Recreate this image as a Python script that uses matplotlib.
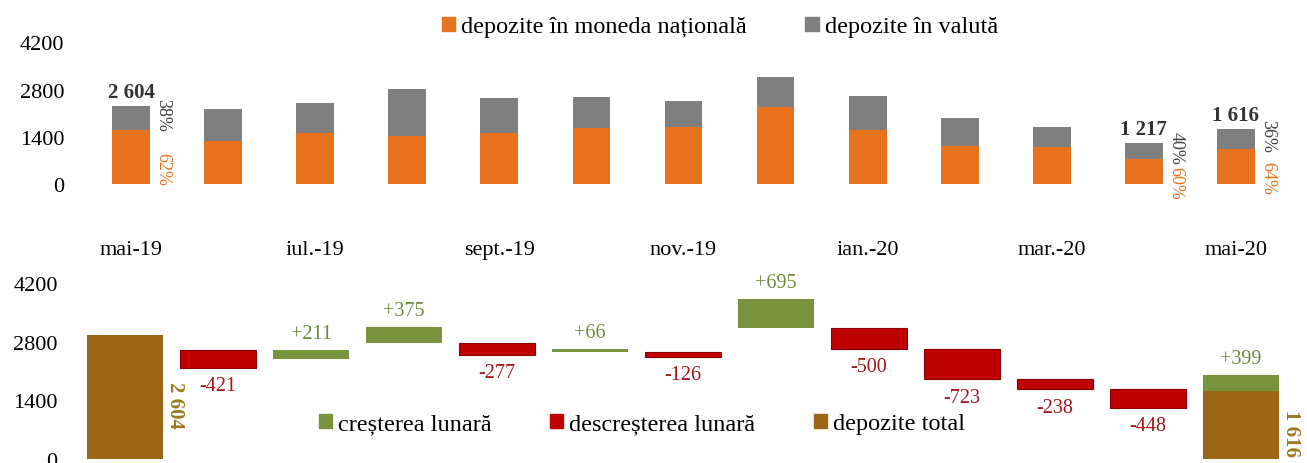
import matplotlib
matplotlib.use("Agg")
import matplotlib.pyplot as plt
from matplotlib.patches import Patch

# top chart: deposits by currency (mil. lei)
months = ["mai-19", "iun.-19", "iul.-19", "aug.-19", "sept.-19", "oct.-19", "nov.-19",
          "dec.-19", "ian.-20", "feb.-20", "mar.-20", "apr.-20", "mai-20"]
dep_nat = [1600, 1285, 1500, 1435, 1500, 1650, 1680, 2295, 1600, 1135, 1090, 730, 1035]
dep_fx = [705, 940, 900, 1385, 1040, 940, 770, 890, 1020, 815, 590, 487, 581]
total_idx = [0, 11, 12]
total_txt = ["2 604", "1 217", "1 616"]
pct_fx_txt = ["38%", "40%", "36%"]
pct_nat_txt = ["62%", "60%", "64%"]

# bottom chart: monthly changes
wf_start = 2604
wf_changes = [-421, 211, 375, -277, 66, -126, 695, -500, -723, -238, -448, 399]
wf_total_heights = [2950, 1616]
wf_total_txt = ["2 604", "1 616"]

ORANGE = "#E8731F"
GRAY = "#7F7F7F"
GREEN = "#77933C"
RED = "#C00000"
BROWN = "#9C6619"
GREEN_TXT = "#6E8B3D"
RED_TXT = "#A3161E"
GOLD_TXT = "#9C7A22"

plt.rcParams["font.family"] = ["Liberation Serif", "DejaVu Serif"]

W, H = 1307, 464
fig = plt.figure(figsize=(W / 100, H / 100), dpi=100)


def px_axes(left, top, right, bottom):
    return fig.add_axes([left / W, 1 - bottom / H, (right - left) / W, (bottom - top) / H])


def clean(ax):
    for s in ax.spines.values():
        s.set_visible(False)
    ax.set_ylim(0, 4200)
    ax.set_xlim(-0.5, 12.5)
    ax.set_yticks([0, 1400, 2800, 4200])
    ax.tick_params(axis="y", length=0, pad=15, labelsize=16)


# ---- top
ax1 = px_axes(85, 43.3, 1282, 185)
clean(ax1)
x = list(range(len(months)))
ax1.bar(x, dep_nat, width=0.41, color=ORANGE)
ax1.bar(x, dep_fx, width=0.41, bottom=dep_nat, color=GRAY)
ax1.set_xticks(x[::2])
ax1.set_xticklabels(months[::2], fontsize=16)
ax1.tick_params(axis="x", length=0, pad=40)

for i, t, pf, pn in zip(total_idx, total_txt, pct_fx_txt, pct_nat_txt):
    tot = dep_nat[i] + dep_fx[i]
    ax1.annotate(t, (i, tot), xytext=(0, 3), textcoords="offset points",
                 ha="center", va="bottom", fontsize=15, fontweight="bold", color="#333333")
    ax1.annotate(pf, (i, dep_nat[i] + dep_fx[i] / 2), xytext=(23, 3), textcoords="offset points",
                 ha="center", va="center", rotation=-90, fontsize=13, color="#404040")
    ax1.annotate(pn, (i, dep_nat[i] / 2), xytext=(23, -8), textcoords="offset points",
                 ha="center", va="center", rotation=-90, fontsize=13, color=ORANGE)

fig.legend(handles=[Patch(color=ORANGE, label="depozite în moneda națională"),
                    Patch(color=GRAY, label="depozite în valută")],
           loc="center", bbox_to_anchor=(720 / W, 1 - 28 / H), ncol=2, frameon=False,
           fontsize=17.5, handlelength=0.55, handleheight=0.55, handletextpad=0.25,
           columnspacing=2.4)

# ---- bottom
ax2 = px_axes(78.5, 284, 1287.5, 460)
clean(ax2)
ax2.set_xticks([])

ax2.bar(0, wf_total_heights[0], width=0.81, color=BROWN)
ax2.bar(12, wf_total_heights[1], width=0.81, color=BROWN)

level = wf_start
for k, ch in enumerate(wf_changes):
    i = k + 1
    new = level + ch
    if ch < 0:
        ax2.bar(i, -ch, bottom=new, width=0.81, color=RED, edgecolor="#8B0000", linewidth=0.8)
        ax2.annotate(f"{ch}", (i, new), xytext=(0, -6), textcoords="offset points",
                     ha="center", va="top", fontsize=14.5, color=RED_TXT)
    else:
        ax2.bar(i, ch, bottom=new, width=0.81, color=GREEN)
        ax2.annotate(f"+{ch}", (i, new + ch), xytext=(0, 5), textcoords="offset points",
                     ha="center", va="bottom", fontsize=14.5, color=GREEN_TXT)
    level = new

for i, h, t in zip([0, 12], wf_total_heights, wf_total_txt):
    ax2.annotate(t, (i + 0.405, h / 2), xytext=(9, -5), textcoords="offset points",
                 ha="center", va="center", rotation=-90, fontsize=15,
                 fontweight="bold", color=GOLD_TXT)

fig.legend(handles=[Patch(color=GREEN, label="creșterea lunară"),
                    Patch(color=RED, label="descreșterea lunară"),
                    Patch(color=BROWN, label="depozite total")],
           loc="center", bbox_to_anchor=(642 / W, 1 - 425 / H), ncol=3, frameon=False,
           fontsize=17.5, handlelength=0.55, handleheight=0.55, handletextpad=0.25,
           columnspacing=2.4)

fig.savefig("out.png", dpi=100)
